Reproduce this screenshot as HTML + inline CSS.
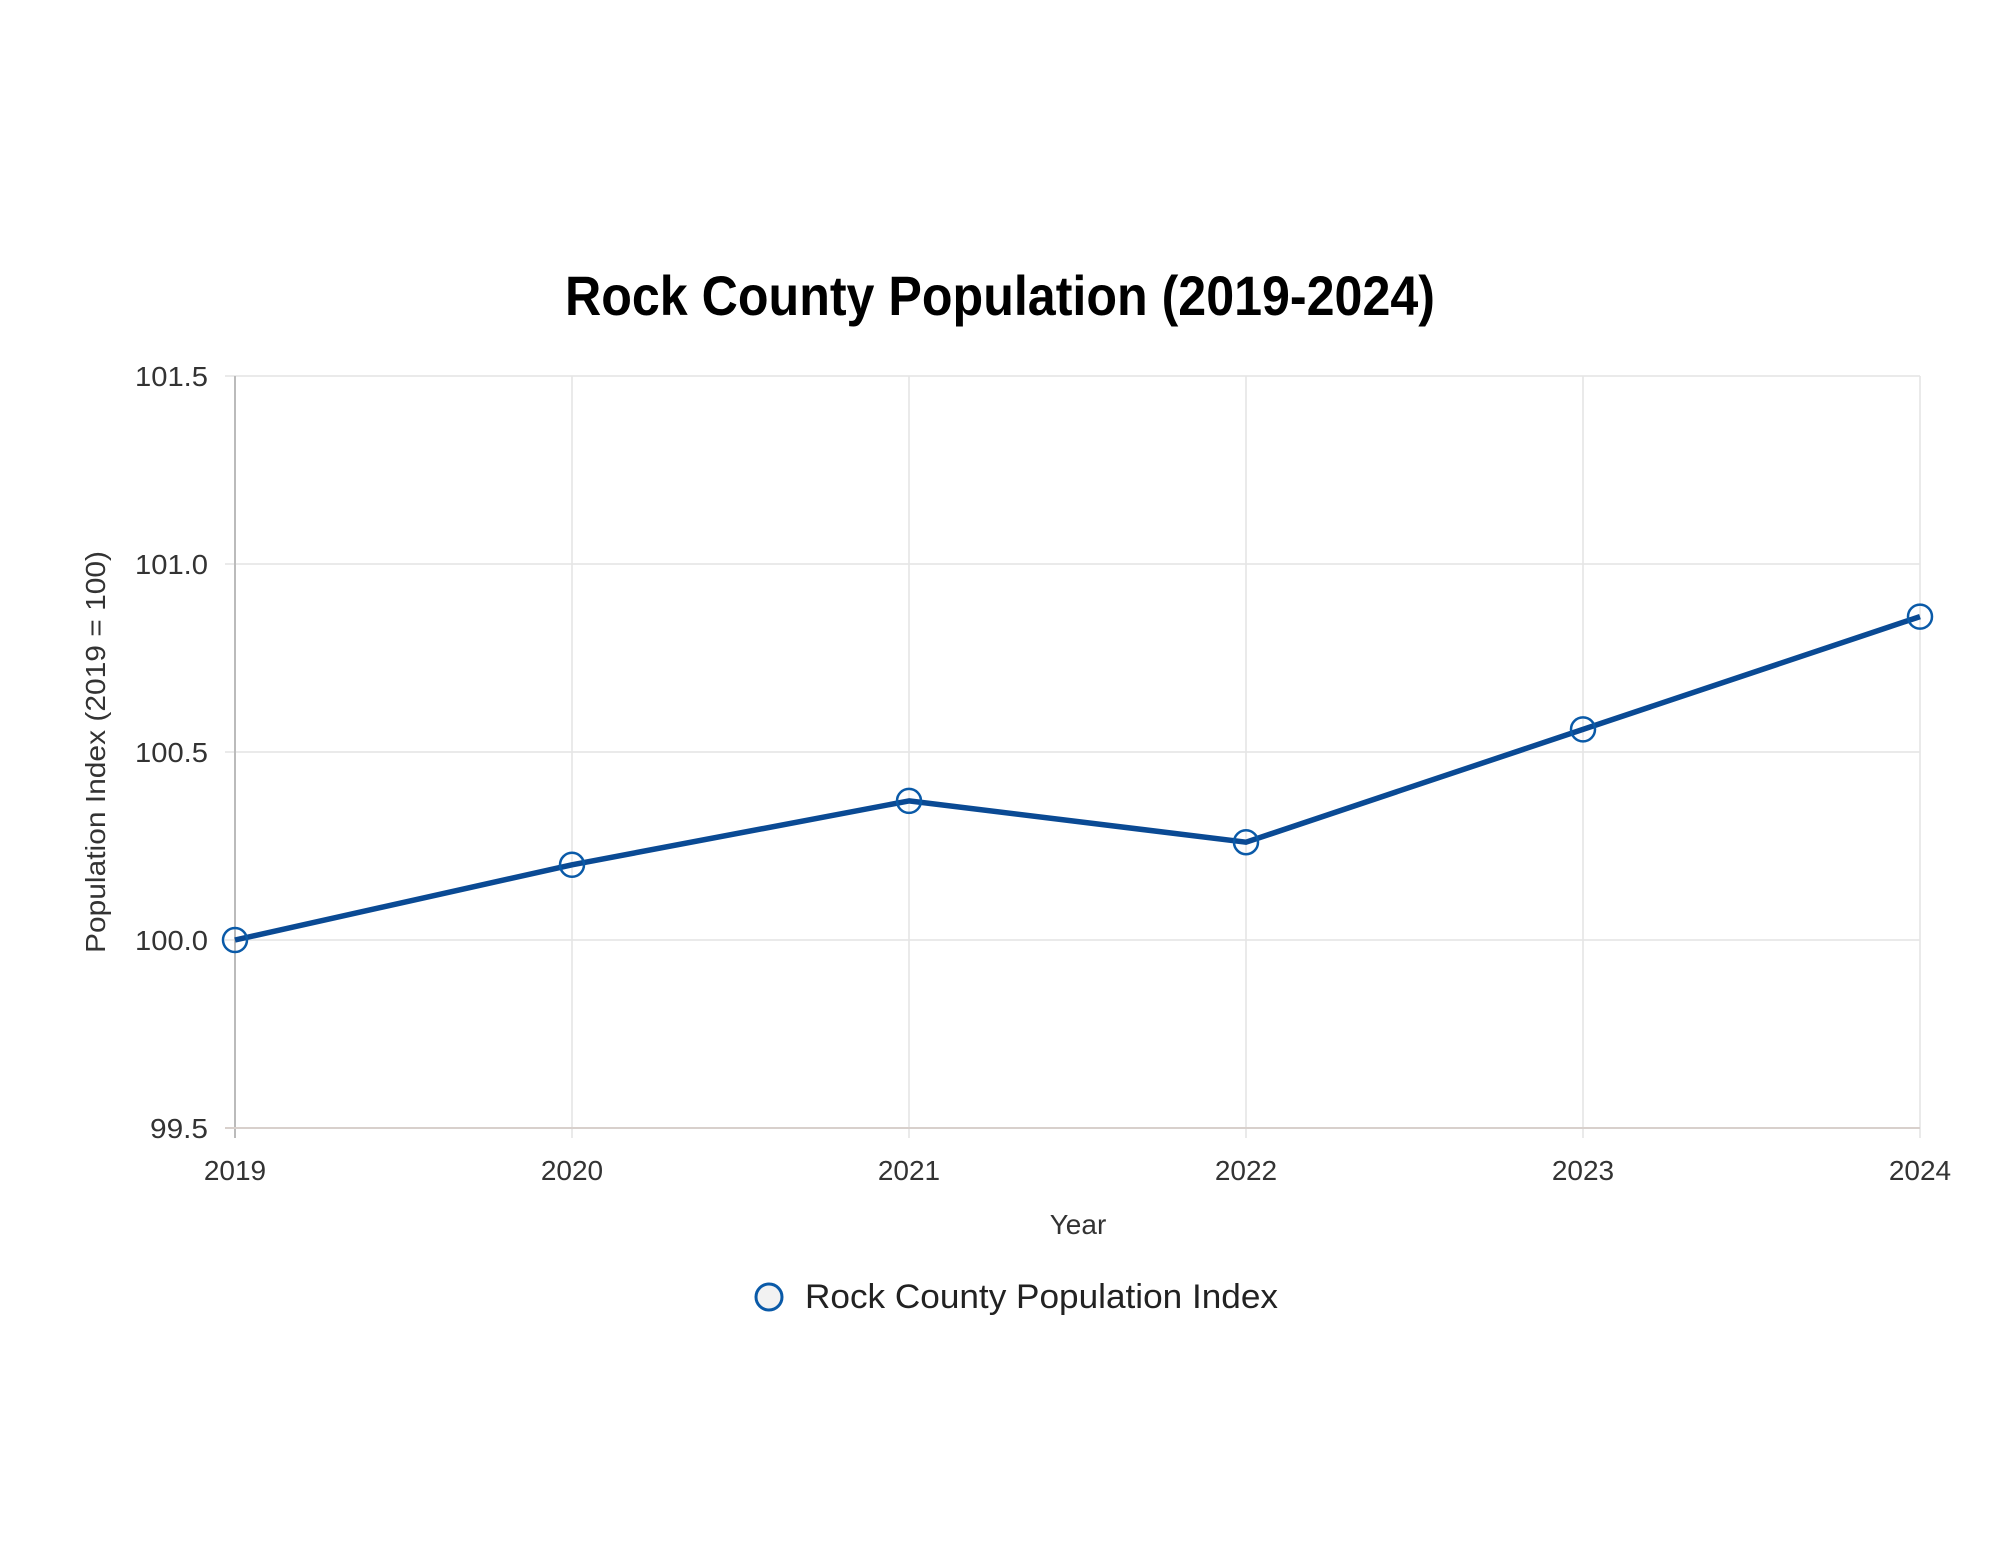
<!DOCTYPE html>
<html><head><meta charset="utf-8"><style>html,body{margin:0;padding:0;background:#fff}svg{display:block}</style></head><body>
<svg width="2000" height="1545" xmlns="http://www.w3.org/2000/svg">
<rect width="2000" height="1545" fill="#fff"/>
<text x="1000" y="315" text-anchor="middle" font-family="Liberation Sans, sans-serif" font-weight="bold" font-size="56" textLength="870" lengthAdjust="spacingAndGlyphs" fill="#000">Rock County Population (2019-2024)</text>
<g stroke="#e4e4e4" stroke-width="1.5">
<line x1="225" y1="376" x2="1920" y2="376"/>
<line x1="225" y1="564" x2="1920" y2="564"/>
<line x1="225" y1="752" x2="1920" y2="752"/>
<line x1="225" y1="940" x2="1920" y2="940"/>
<line x1="572" y1="376" x2="572" y2="1138"/>
<line x1="909" y1="376" x2="909" y2="1138"/>
<line x1="1246" y1="376" x2="1246" y2="1138"/>
<line x1="1583" y1="376" x2="1583" y2="1138"/>
<line x1="1920" y1="376" x2="1920" y2="1138"/>
</g>
<line x1="235" y1="376" x2="235" y2="1138" stroke="#bbb" stroke-width="2"/>
<line x1="225" y1="1128" x2="1920" y2="1128" stroke="#d8d0cc" stroke-width="2"/>
<g font-family="Liberation Sans, sans-serif" font-size="28" fill="#333" text-anchor="end">
<text x="208" y="386" textLength="73" lengthAdjust="spacingAndGlyphs">101.5</text>
<text x="208" y="574" textLength="73" lengthAdjust="spacingAndGlyphs">101.0</text>
<text x="208" y="762" textLength="73" lengthAdjust="spacingAndGlyphs">100.5</text>
<text x="208" y="950" textLength="73" lengthAdjust="spacingAndGlyphs">100.0</text>
<text x="208" y="1138" textLength="58" lengthAdjust="spacingAndGlyphs">99.5</text>
</g>
<g font-family="Liberation Sans, sans-serif" font-size="28" fill="#333" text-anchor="middle">
<text x="235" y="1180">2019</text>
<text x="572" y="1180">2020</text>
<text x="909" y="1180">2021</text>
<text x="1246" y="1180">2022</text>
<text x="1583" y="1180">2023</text>
<text x="1920" y="1180">2024</text>
<text x="1078" y="1234">Year</text>
<text transform="translate(105,752) rotate(-90)" textLength="402" lengthAdjust="spacingAndGlyphs">Population Index (2019 = 100)</text>
</g>
<polyline points="235,940 572,864.8 909,800.9 1246,842.2 1583,729.4 1920,616.6" fill="none" stroke="#0a4a94" stroke-width="5.5" stroke-linejoin="round"/>
<g fill="none" stroke="#0a5aa8" stroke-width="2.5">
<circle cx="235" cy="940" r="12"/>
<circle cx="572" cy="864.8" r="12"/>
<circle cx="909" cy="800.9" r="12"/>
<circle cx="1246" cy="842.2" r="12"/>
<circle cx="1583" cy="729.4" r="12"/>
<circle cx="1920" cy="616.6" r="12"/>
</g>
<circle cx="769" cy="1297" r="13" fill="#f2f2f2" stroke="#0a5aa8" stroke-width="3"/>
<text x="805" y="1308" font-family="Liberation Sans, sans-serif" font-size="34" fill="#222" textLength="473" lengthAdjust="spacingAndGlyphs">Rock County Population Index</text>
</svg>
</body></html>
